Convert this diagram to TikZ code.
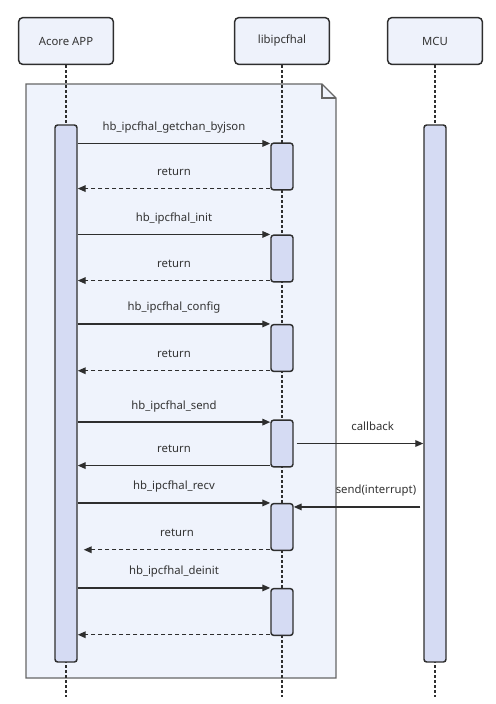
\documentclass[tikz,border=0pt]{standalone}
\usepackage{fontspec}
\setmainfont{Noto Sans}
\usetikzlibrary{arrows.meta, positioning}

\definecolor{partfill}{HTML}{EEF2FB}
\definecolor{notefill}{HTML}{EFF3FC}
\definecolor{barfill}{HTML}{D5DBF3}
\definecolor{linegray}{HTML}{2E2E2E}
\definecolor{notegray}{HTML}{666666}
\definecolor{txtgray}{HTML}{333333}

\tikzset{
  part/.style={draw=linegray, fill=partfill, rounded corners=3pt, line width=1.1pt,
    minimum width=71pt, minimum height=35pt, font=\fontsize{8.5}{10}\selectfont, text=txtgray},
  actbar/.style={draw=linegray, fill=barfill, rounded corners=2pt, line width=1.1pt,
    minimum width=16.5pt, inner sep=0pt},
  libbar/.style={actbar, minimum height=35pt},
  life/.style={linegray, line width=1pt, dash pattern=on 2.25pt off 1.5pt},
  call/.style={-{Triangle[length=6pt,width=5pt]}, linegray, line width=1.05pt},
  ret/.style={call, dash pattern=on 3pt off 2.25pt},
  msg/.style={font=\fontsize{8.5}{10}\selectfont, text=txtgray, above=7.5pt, inner sep=0pt,
    text height=6.2pt, text depth=1.8pt}
}

\begin{document}
\begin{tikzpicture}[x=0.75pt, y=-0.75pt]
  \useasboundingbox (0,0) rectangle (496,704);
  % Notiz
  \draw[notegray, fill=notefill, line width=1pt]
    (26,84) -- (322,84) -- (336,98) -- (336,678) -- (26,678) -- cycle;
  \draw[notegray, line width=1pt] (322,84) -- (322,98) -- (336,98);
  % Teilnehmer
  \node[part] (app) at (66,41) {Acore APP};
  \node[part] (lib) at (282,41) {libipcfhal};
  \node[part] (mcu) at (435,41) {MCU};
  % Lebenslinien
  \coordinate (append) at (66,697);
  \coordinate (libend) at (282,697);
  \coordinate (mcuend) at (435,697);
  \draw[life] (app.south) -- (append);
  \draw[life] (lib.south) -- (libend);
  \draw[life] (mcu.south) -- (mcuend);
  % Aktivierungen
  \node[actbar, minimum height=402.75pt] (appbar) at (66,393.5) {};
  \node[actbar, minimum height=402.75pt] (mcubar) at (435,393.5) {};
  \node[libbar] (lb1) at (282,166.5) {};
  \node[libbar] (lb2) at (282,258.5) {};
  \node[libbar] (lb3) at (282,348) {};
  \node[libbar] (lb4) at (282,443.5) {};
  \node[libbar] (lb5) at (282,527) {};
  \node[libbar] (lb6) at (282,612) {};
  % getchan_byjson
  \draw[call] ([yshift=-0.75pt]lb1.north west -| appbar.east) -- ([yshift=-0.75pt]lb1.north west)
    node[msg, midway] (t1) {hb\_ipcfhal\_getchan\_byjson};
  \draw[ret] ([yshift=1.5pt]lb1.south west) -- ([yshift=1.5pt]lb1.south west -| appbar.east)
    node[msg, midway] (r1) {return};
  % init
  \draw[call] (lb2.north west -| appbar.east) -- (lb2.north west)
    node[msg, midway] (t2) {hb\_ipcfhal\_init};
  \draw[ret] ([yshift=1.5pt]lb2.south west) -- ([yshift=1.5pt]lb2.south west -| appbar.east)
    node[msg, midway] (r2) {return};
  % config
  \draw[call] (lb3.north west -| appbar.east) -- (lb3.north west)
    node[msg, midway] (t3) {hb\_ipcfhal\_config};
  \draw[ret] ([yshift=1pt]lb3.south west) -- ([yshift=1pt]lb3.south west -| appbar.east)
    node[msg, midway] (r3) {return};
  % send
  \draw[call] ([yshift=-2pt]lb4.north west -| appbar.east) -- ([yshift=-2pt]lb4.north west)
    node[msg, midway] (t4) {hb\_ipcfhal\_send};
  \draw[call] ([yshift=1.5pt]lb4.south west) -- ([yshift=1.5pt]lb4.south west -| appbar.east)
    node[msg, midway] (r4) {return};
  \draw[call] ([xshift=2.25pt]lb4.east) -- (lb4.east -| mcubar.west)
    node[msg, pos=0.6] (cb) {callback};
  % recv
  \draw[call] (lb5.north west -| appbar.east) -- (lb5.north west)
    node[msg, midway] (t5) {hb\_ipcfhal\_recv};
  \draw[call] ([xshift=-2.25pt,yshift=-3pt]lb5.north west -| mcubar.west) -- ([yshift=-3pt]lb5.north east)
    node[msg, pos=0.35] (irq) {send(interrupt)};
  \draw[ret] ([yshift=1pt]lb5.south west) -- ([xshift=4.5pt,yshift=1pt]lb5.south west -| appbar.east)
    node[msg, midway] (r5) {return};
  % deinit
  \draw[call] (lb6.north west -| appbar.east) -- (lb6.north west)
    node[msg, midway] (t6) {hb\_ipcfhal\_deinit};
  \draw[ret] ([yshift=1pt]lb6.south west) -- ([yshift=1pt]lb6.south west -| appbar.east);
\end{tikzpicture}
\end{document}
